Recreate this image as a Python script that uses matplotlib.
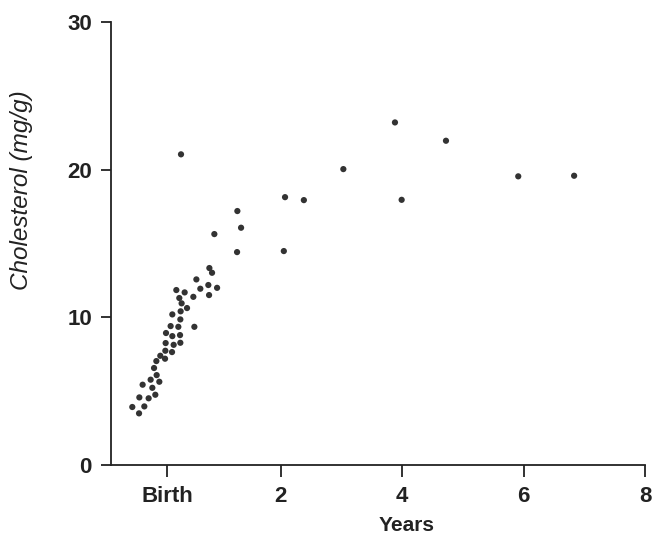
import matplotlib.pyplot as plt
import numpy as np

# age in years (negative = before birth), cholesterol in mg/g
age = [0.807, 0.675, 0.951, 0.819, 0.280, 0.417, 0.560, 0.329, 0.367, 0.456,
       0.351, 0.214, 0.346, 0.186, 0.313, 0.577, 0.110, 0.214, 0.341, 0.104,
       0.236, 0.346, 0.099, 0.209, 0.016, 0.094, -0.049, -0.087, -0.044, -0.143,
       0.000, -0.275, -0.115, -0.329, -0.176, -0.066, -0.445, -0.247, -0.334,
       0.357, 4.72, 3.88, 3.03, 5.91, 6.83, 2.07, 2.38, 3.99, 1.285,
       1.346, 0.906, 1.28, 2.05, 0.824, 0.868, 0.61]
chol = [12.19, 11.94, 12.00, 11.51, 11.85, 11.69, 11.39, 11.31, 10.95, 10.63,
        10.41, 10.20, 9.86, 9.41, 9.36, 9.36, 8.94, 8.73, 8.80, 8.26,
        8.14, 8.28, 7.74, 7.65, 7.40, 7.20, 7.04, 6.57, 6.09, 5.78,
        5.64, 5.44, 5.23, 4.58, 4.52, 4.76, 3.93, 3.97, 3.50,
        21.04, 21.96, 23.2, 20.04, 19.55, 19.59, 18.14, 17.94, 17.96, 17.20,
        16.07, 15.64, 14.42, 14.49, 13.34, 13.02, 12.57]

x_ticks = [0.13, 2, 4, 6, 8]
x_labels = ["Birth", "2", "4", "6", "8"]
y_ticks = [0, 10, 20, 30]

plt.rcParams["font.family"] = ["Liberation Sans", "DejaVu Sans"]
ink = "#222222"

fig = plt.figure(figsize=(6.55, 5.37), dpi=100)
ax = fig.add_axes([0.170, 0.134, 0.815, 0.825])

ax.scatter(age, chol, s=20, c="#333333", edgecolors="none", zorder=3)

ax.set_xlim(-0.79, 8)
ax.set_ylim(0, 30)
ax.set_xticks(x_ticks)
ax.set_xticklabels(x_labels)
ax.set_yticks(y_ticks)

for side in ["top", "right"]:
    ax.spines[side].set_visible(False)
for side in ["left", "bottom"]:
    ax.spines[side].set_linewidth(1.3)
    ax.spines[side].set_color(ink)

ax.tick_params(axis="both", direction="out", width=1.3, color=ink,
               labelsize=16, labelcolor=ink)
ax.tick_params(axis="y", length=7.5, pad=6.5)
ax.tick_params(axis="x", length=8.6, pad=6.5)
for lab in ax.get_xticklabels() + ax.get_yticklabels():
    lab.set_fontweight("bold")

# axis titles placed where they sit in the original (not centred on the axes)
fig.text(406.5 / 655, 1 - 531 / 537, "Years", fontsize=15, fontweight="bold",
         color=ink, ha="center", va="baseline")
fig.text(22 / 655, 1 - 190 / 537, "Cholesterol (mg/g)", fontsize=17.5,
         style="italic", color=ink, rotation=90, ha="center", va="center")

fig.savefig("out.png", dpi=100)
